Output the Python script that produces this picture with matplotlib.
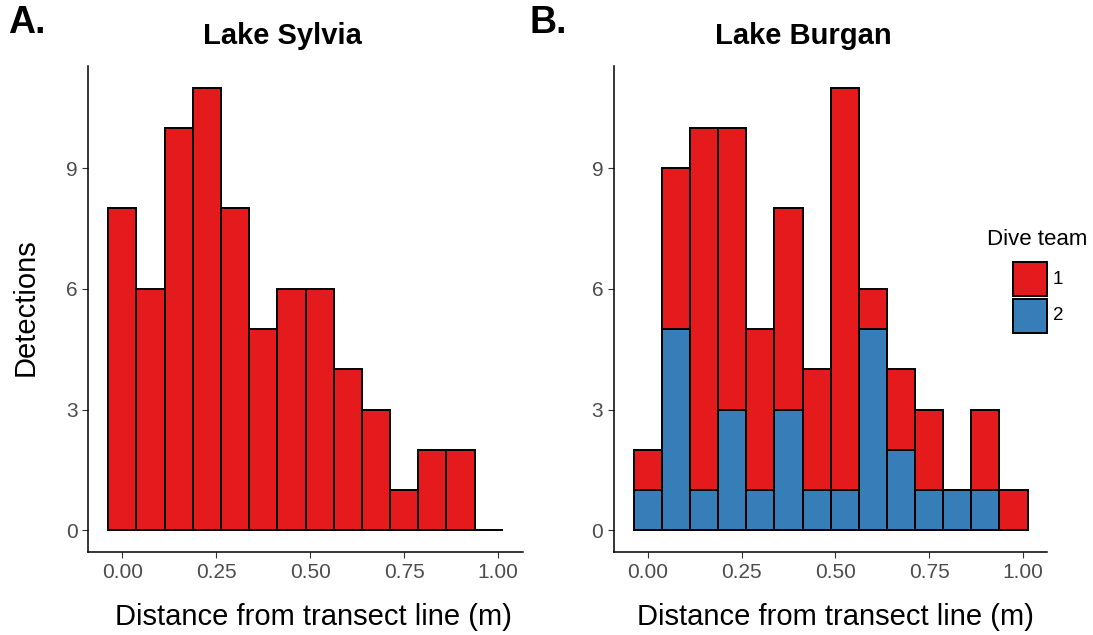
import numpy as np
import matplotlib
matplotlib.use("Agg")
import matplotlib.pyplot as plt
from matplotlib.patches import Rectangle

plt.rcParams['font.family'] = ['Liberation Sans', 'DejaVu Sans']

# ---- data ----
bin_width = 0.075
bin_centres = [0.0, 0.075, 0.15, 0.225, 0.3, 0.375, 0.45, 0.525, 0.6, 0.675,
               0.75, 0.825, 0.9, 0.975]
sylvia_counts = [8, 6, 10, 11, 8, 5, 6, 6, 4, 3, 1, 2, 2, 0]
burgan_team1 = [1, 4, 9, 7, 4, 5, 3, 10, 1, 2, 2, 0, 2, 1]
burgan_team2 = [1, 5, 1, 3, 1, 3, 1, 1, 5, 2, 1, 1, 1, 0]
teams = ["1", "2"]
team_colors = {"1": "#E41A1C", "2": "#377EB8"}
x_ticks = [0.0, 0.25, 0.5, 0.75, 1.0]
x_ticklabels = ["0.00", "0.25", "0.50", "0.75", "1.00"]
y_ticks = [0, 3, 6, 9]

W, H = 1093, 635
fig = plt.figure(figsize=(W / 100, H / 100), dpi=100)

def px(x0, y0, x1, y1):
    return [x0 / W, 1 - y1 / H, (x1 - x0) / W, (y1 - y0) / H]

axL = fig.add_axes(px(88.4, 65.7, 522.6, 552.3))
axR = fig.add_axes(px(614.1, 65.7, 1047.2, 552.3))

edge_kw = dict(edgecolor="black", linewidth=1.4, width=bin_width, align="center")

axL.bar(bin_centres, sylvia_counts, color=team_colors["1"], **edge_kw)
axR.bar(bin_centres, burgan_team2, color=team_colors["2"], **edge_kw)
axR.bar(bin_centres, burgan_team1, bottom=burgan_team2, color=team_colors["1"], **edge_kw)

lo = bin_centres[0] - bin_width / 2
hi = bin_centres[-1] + bin_width / 2
pad = 0.05 * (hi - lo)
ymax = max(max(sylvia_counts), max(np.add(burgan_team1, burgan_team2)))

for ax in (axL, axR):
    ax.set_xlim(lo - pad, hi + pad)
    ax.set_ylim(-0.05 * ymax, ymax * 1.05)
    for s in ("top", "right"):
        ax.spines[s].set_visible(False)
    for s in ("left", "bottom"):
        ax.spines[s].set_color("black")
        ax.spines[s].set_linewidth(1.1)
    ax.set_xticks(x_ticks)
    ax.set_xticklabels(x_ticklabels)
    ax.set_yticks(y_ticks)
    ax.tick_params(axis="both", length=4.0, width=0.8, color="#333333",
                   labelcolor="#4D4D4D", labelsize=15, pad=3.9)
    ax.patch.set_visible(False)

# titles & labels
fig.text(282 / W, 1 - 44.3 / H, "Lake Sylvia", ha="center", va="baseline",
         fontsize=21, fontweight="bold")
fig.text(803 / W, 1 - 44.3 / H, "Lake Burgan", ha="center", va="baseline",
         fontsize=21, fontweight="bold")
fig.text(7.7 / W, 1 - 33.3 / H, "A.", ha="left", va="baseline",
         fontsize=27, fontweight="bold")
fig.text(529.5 / W, 1 - 33.3 / H, "B.", ha="left", va="baseline",
         fontsize=27, fontweight="bold")
fig.text(313 / W, 1 - 625 / H, "Distance from transect line (m)", ha="center",
         va="baseline", fontsize=21)
fig.text(835.4 / W, 1 - 625 / H, "Distance from transect line (m)", ha="center",
         va="baseline", fontsize=21)
fig.text(26 / W, 1 - 306.7 / H, "Detections", ha="center", va="center",
         rotation=90, fontsize=21)

# legend
fig.text(987.3 / W, 1 - 245 / H, "Dive team", ha="left", va="baseline", fontsize=16)
key_x0, key_w, key_h, key_gap, key_top = 1012.7, 34.0, 34.0, 2.3, 262.3
for i, t in enumerate(teams):
    y0 = key_top + i * (key_h + key_gap)
    fig.add_artist(Rectangle((key_x0 / W, 1 - (y0 + key_h) / H), key_w / W, key_h / H,
                             transform=fig.transFigure, facecolor=team_colors[t],
                             edgecolor="black", linewidth=1.4))
    fig.text((key_x0 + key_w + 6) / W, 1 - (y0 + key_h / 2) / H, t, ha="left",
             va="center", fontsize=13.5)

fig.savefig("out.png", dpi=100)
